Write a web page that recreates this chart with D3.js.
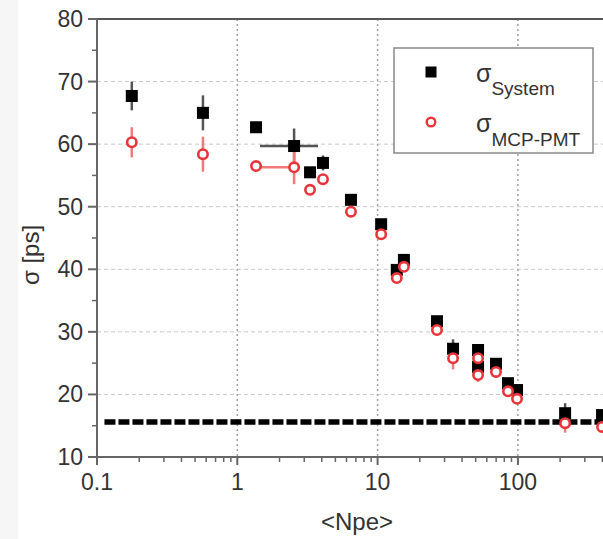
<!DOCTYPE html>
<html>
<head>
<meta charset="utf-8">
<script src="https://cdn.jsdelivr.net/npm/d3@7"></script>
<style>
  html, body { margin: 0; padding: 0; background: #fff; }
  svg { display: block; }
  text { font-family: "Liberation Sans", Arial, Helvetica, sans-serif; fill: #333; }
</style>
</head>
<body>
<svg id="chart" width="603" height="539"></svg>
<script>
// <Npe> for each measurement
var npe = [0.177, 0.569, 1.36, 2.54, 3.30, 4.08, 6.46, 10.6, 13.7, 15.4, 26.5, 34.5, 52, 52, 69.8, 85, 98.6, 217, 398];
// sigma_System [ps] and its error
var sysSigma = [67.7, 65.0, 62.7, 59.7, 55.5, 57.0, 51.1, 47.2, 39.9, 41.5, 31.7, 27.3, 27.1, 24.4, 24.9, 21.8, 20.7, 17.0, 16.7];
var sysErr   = [2.3, 2.8, 0.4, 2.8, 0.6, 1.2, 0.6, 0.5, 0.5, 0.5, 0.5, 1.5, 0.5, 0.5, 0.5, 0.5, 0.5, 1.6, 0.5];
// sigma_MCP-PMT [ps] and its error
var mcpSigma = [60.3, 58.4, 56.5, 56.3, 52.7, 54.4, 49.2, 45.6, 38.6, 40.4, 30.3, 25.8, 25.8, 23.1, 23.6, 20.5, 19.3, 15.4, 14.8];
var mcpErr   = [2.4, 2.8, 0.4, 2.7, 0.6, 0.8, 0.6, 0.5, 0.5, 0.5, 0.5, 1.8, 0.5, 1.1, 0.5, 0.5, 0.5, 1.5, 0.5];
// horizontal error bars (index, low, high)
var sysXErr = [[3, 1.45, 3.76]];
var mcpXErr = [[3, 1.38, 2.54]];
// timing floor
var floorSigma = 15.6;
var floorFrom = 0.113;

var xTicks = [0.1, 1, 10, 100, 1000];
var xTickLabels = ["0.1", "1", "10", "100", ""];
var yTicks = [10, 20, 30, 40, 50, 60, 70, 80];

var svg = d3.select("#chart");
var W = 603, H = 539;

// light strip on the left edge
svg.append("rect").attr("x", 0).attr("y", 0).attr("width", 18).attr("height", H).attr("fill", "#f6f6f6");

var x = d3.scaleLog().domain([0.1, 1000]).range([97, 97 + 4 * 140.3]);
var y = d3.scaleLinear().domain([10, 80]).range([457, 19]);

var xMinor = [];
[0.1, 1, 10, 100].forEach(function(d){
  for (var k = 2; k <= 9; k++) xMinor.push(d * k);
});
var yMinor = [15, 25, 35, 45, 55, 65, 75];

// grid
svg.append("g").selectAll("line.hg").data(yTicks.slice(1, -1)).enter()
  .append("line").attr("class", "hg")
  .attr("x1", x(0.1)).attr("x2", W)
  .attr("y1", function(d){ return y(d); }).attr("y2", function(d){ return y(d); })
  .attr("stroke", "#c8c8c8").attr("stroke-width", 1).attr("stroke-dasharray", "4,3");

svg.append("g").selectAll("line.vg").data([1, 10, 100]).enter()
  .append("line").attr("class", "vg")
  .attr("x1", function(d){ return x(d); }).attr("x2", function(d){ return x(d); })
  .attr("y1", y(80)).attr("y2", y(10))
  .attr("stroke", "#a0a0a0").attr("stroke-width", 1.5).attr("stroke-dasharray", "2,3");

// frame top
svg.append("line").attr("x1", x(0.1)).attr("x2", W).attr("y1", y(80)).attr("y2", y(80))
  .attr("stroke", "#555").attr("stroke-width", 2);

// axes
var axisCol = "#666";
svg.append("line").attr("x1", x(0.1)).attr("x2", W).attr("y1", y(10)).attr("y2", y(10))
  .attr("stroke", axisCol).attr("stroke-width", 2);
svg.append("line").attr("x1", x(0.1)).attr("x2", x(0.1)).attr("y1", y(80)).attr("y2", y(10) + 8)
  .attr("stroke", axisCol).attr("stroke-width", 2);

// x ticks
svg.append("g").selectAll("line").data(xTicks).enter().append("line")
  .attr("x1", function(d){ return x(d); }).attr("x2", function(d){ return x(d); })
  .attr("y1", y(10)).attr("y2", y(10) + 8)
  .attr("stroke", axisCol).attr("stroke-width", 2);
svg.append("g").selectAll("line").data(xMinor).enter().append("line")
  .attr("x1", function(d){ return x(d); }).attr("x2", function(d){ return x(d); })
  .attr("y1", y(10)).attr("y2", y(10) + 5)
  .attr("stroke", axisCol).attr("stroke-width", 1.5);
svg.append("g").selectAll("text").data(xTicks.filter(function(d, i){ return xTickLabels[i]; })).enter().append("text")
  .attr("x", function(d){ return x(d); }).attr("y", 490)
  .attr("text-anchor", "middle").attr("font-size", 23)
  .text(function(d, i){ return xTickLabels[i]; });

// y ticks
svg.append("g").selectAll("line").data(yTicks).enter().append("line")
  .attr("x1", x(0.1) - 9).attr("x2", x(0.1))
  .attr("y1", function(d){ return y(d); }).attr("y2", function(d){ return y(d); })
  .attr("stroke", axisCol).attr("stroke-width", 2);
svg.append("g").selectAll("line").data(yMinor).enter().append("line")
  .attr("x1", x(0.1) - 5).attr("x2", x(0.1))
  .attr("y1", function(d){ return y(d); }).attr("y2", function(d){ return y(d); })
  .attr("stroke", axisCol).attr("stroke-width", 1.5);
svg.append("g").selectAll("text").data(yTicks).enter().append("text")
  .attr("x", 83).attr("y", function(d){ return y(d) + 8; })
  .attr("text-anchor", "end").attr("font-size", 23)
  .text(function(d){ return d; });

// axis titles
svg.append("text").attr("x", 357).attr("y", 530).attr("text-anchor", "middle")
  .attr("font-size", 24).text("<Npe>");
svg.append("text").attr("transform", "translate(39,255) rotate(-90)")
  .attr("text-anchor", "middle").attr("font-size", 24).text("σ [ps]");

// timing floor
svg.append("line").attr("x1", x(floorFrom)).attr("x2", W)
  .attr("y1", y(floorSigma)).attr("y2", y(floorSigma))
  .attr("stroke", "#000").attr("stroke-width", 5.5).attr("stroke-dasharray", "11,3");

var red = "#e8343a";

function errorBars(vals, errs, xerr, col) {
  var g = svg.append("g");
  g.selectAll("line.ey").data(vals).enter().append("line")
    .attr("x1", function(d, i){ return x(npe[i]); }).attr("x2", function(d, i){ return x(npe[i]); })
    .attr("y1", function(d, i){ return y(d + errs[i]); })
    .attr("y2", function(d, i){ return y(d - errs[i]); })
    .attr("stroke", col).attr("stroke-width", 2.5);
  g.selectAll("line.ex").data(xerr).enter().append("line")
    .attr("x1", function(d){ return x(d[1]); }).attr("x2", function(d){ return x(d[2]); })
    .attr("y1", function(d){ return y(vals[d[0]]); }).attr("y2", function(d){ return y(vals[d[0]]); })
    .attr("stroke", col).attr("stroke-width", 2.5);
}
errorBars(sysSigma, sysErr, sysXErr, "#555");
errorBars(mcpSigma, mcpErr, mcpXErr, "#f07a7a");

// markers
var sq = 12;
svg.append("g").selectAll("rect").data(sysSigma).enter().append("rect")
  .attr("x", function(d, i){ return x(npe[i]) - sq / 2; })
  .attr("y", function(d){ return y(d) - sq / 2; })
  .attr("width", sq).attr("height", sq).attr("fill", "#000");

svg.append("g").selectAll("circle").data(mcpSigma).enter().append("circle")
  .attr("cx", function(d, i){ return x(npe[i]); })
  .attr("cy", function(d){ return y(d); })
  .attr("r", 4.7).attr("fill", "#fff").attr("stroke", red).attr("stroke-width", 2.6);

// legend
var lg = svg.append("g");
lg.append("rect").attr("x", 394).attr("y", 48).attr("width", 199).attr("height", 105)
  .attr("fill", "#fff").attr("stroke", "#888").attr("stroke-width", 1.5);
lg.append("rect").attr("x", 425.5).attr("y", 66.5).attr("width", 11).attr("height", 11).attr("fill", "#000");
lg.append("circle").attr("cx", 431).attr("cy", 122).attr("r", 4.3).attr("fill", "#fff")
  .attr("stroke", red).attr("stroke-width", 2.4);
var t1 = lg.append("text").attr("x", 476).attr("y", 82).attr("font-size", 25);
t1.append("tspan").text("σ");
t1.append("tspan").attr("font-size", 19).attr("dy", 13).text("System");
var t2 = lg.append("text").attr("x", 476).attr("y", 132).attr("font-size", 25);
t2.append("tspan").text("σ");
t2.append("tspan").attr("font-size", 19).attr("dy", 14).text("MCP-PMT");
</script>
</body>
</html>
